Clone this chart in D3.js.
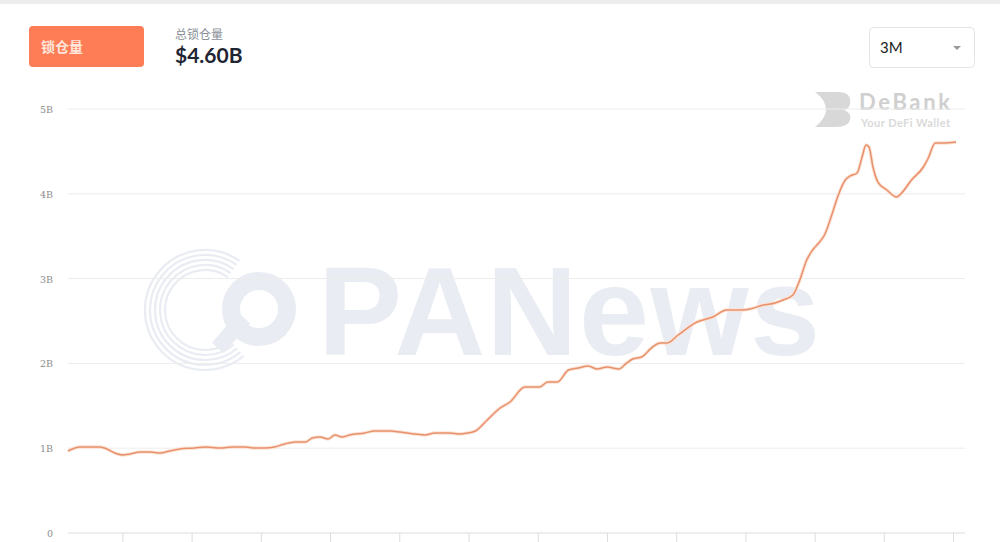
<!DOCTYPE html>
<html><head><meta charset="utf-8">
<script src="https://cdn.jsdelivr.net/npm/d3@7"></script>
<style>
html,body{margin:0;padding:0;background:#fff;overflow:hidden;}
svg{display:block;}
</style></head>
<body>
<svg id="c" width="1000" height="542"></svg>
<script>
// ---- data ----
const days = [0,1.2,3.2,3.7,4.75,5.5,6.3,7.3,8.3,9.3,10.3,11.3,12.8,13.9,15.4,16.6,17.9,18.9,19.9,20.9,21.9,23.0,24.0,24.7,25.5,26.3,27.0,27.7,28.5,30.0,31.0,32.6,33.6,35.1,36.1,37.1,38.6,39.6,40.4,41.2,42.4,43.7,44.7,46.2,47.7,48.5,49.5,50.6,51.6,52.6,53.5,54.5,55.7,56.5,57.1,58.0,59.1,59.9,60.6,61.7,63.6,65.2,66.6,68.0,69.0,70.3,71.5,72.3,73.3,74.0,74.7,75.3,76.0,76.5,77.3,77.9,78.6,79.1,79.8,80.3,80.7,81.0,81.4,81.9,82.8,83.8,84.3,85.3,86.5,87.0,87.7,88.5,89.8];
const tvl = [0.967,1.014,1.014,1.002,0.943,0.920,0.932,0.955,0.955,0.943,0.967,0.991,1.002,1.014,1.002,1.014,1.014,1.002,1.002,1.014,1.05,1.073,1.073,1.12,1.132,1.108,1.156,1.132,1.156,1.179,1.203,1.203,1.191,1.167,1.156,1.179,1.179,1.167,1.179,1.203,1.333,1.474,1.545,1.722,1.722,1.781,1.781,1.922,1.946,1.969,1.934,1.958,1.934,2.005,2.052,2.075,2.193,2.241,2.241,2.335,2.488,2.547,2.630,2.630,2.642,2.689,2.712,2.748,2.807,2.983,3.219,3.337,3.432,3.514,3.774,3.986,4.163,4.210,4.245,4.434,4.575,4.552,4.316,4.139,4.045,3.962,4.009,4.163,4.316,4.422,4.599,4.599,4.611];
const yTicks = [0,1,2,3,4,5];
const yTickLabels = ["0","1B","2B","3B","4B","5B"];
const tabLabel = "锁仓量";
const totalLabel = "总锁仓量";
const totalValue = "$4.60B";
const rangeLabel = "3M";

const svg = d3.select("#c");

// top strip
svg.append("rect").attr("x",0).attr("y",0).attr("width",1000).attr("height",4).attr("fill","#ececec");

// scales
const x = d3.scaleLinear().domain([0,90]).range([68,958]);
const y = d3.scaleLinear().domain([0,5]).range([533,109]);

// watermarks
const wmc = "#e9ecf2";
svg.append("text").attr("x",318).attr("y",355).attr("font-family","Liberation Sans, Arial, sans-serif")
  .attr("font-weight","bold").attr("font-size",126).attr("textLength",502).attr("fill",wmc).text("PANews");
const lg = svg.append("g").attr("fill","none").attr("stroke",wmc);
// thin concentric arcs (left loop)
[0,5,10,15,20].forEach(k=>{
  const r = 60-k;
  const cx = 205, cy = 310;
  const a0 = 35*Math.PI/180, a1 = 140*Math.PI/180;
  lg.append("path").attr("d",`M${cx + r*Math.sin(a0)},${cy - r*Math.cos(a0)} A${r},${r} 0 1 0 ${cx + r*Math.sin(a1)},${cy - r*Math.cos(a1)}`)
    .attr("stroke-width",2.2);
});
// thick right ring and diagonal
lg.append("circle").attr("cx",259).attr("cy",309).attr("r",28).attr("stroke-width",18);
lg.append("path").attr("d","M218,348 L244,318").attr("stroke-width",16);

// DeBank
const db = svg.append("g");
db.append("path").attr("d","M815,92 L838,92 Q852,92 850,104 Q849,109 844,110 Q852,113 850,120 Q848,127 836,127 L815,127 Q826,118 826,110 Q826,100 815,92 Z").attr("fill","#d8d8d8");
db.append("text").attr("x",859).attr("y",110).attr("font-family","Lato, sans-serif").attr("font-weight","bold")
  .attr("font-size",22).attr("textLength",91).attr("fill","#cfcfcf").text("DeBank");
db.append("text").attr("x",861).attr("y",127).attr("font-family","Lato, sans-serif").attr("font-weight","bold")
  .attr("font-size",11).attr("textLength",89).attr("fill","#dadada").text("Your DeFi Wallet");

// grid
svg.append("g").selectAll("line").data(yTicks.filter(d=>d>0)).join("line")
  .attr("x1",68).attr("x2",965).attr("y1",d=>y(d)).attr("y2",d=>y(d))
  .attr("stroke","#ececec").attr("stroke-width",1);

// y axis labels
svg.append("g").selectAll("text").data(yTicks).join("text")
  .attr("x",53).attr("y",d=>y(d)+4).attr("text-anchor","end")
  .attr("font-family","DejaVu Serif, Liberation Mono, monospace").attr("font-size",9.5)
  .attr("fill","#8d8d8d").text((d,i)=>yTickLabels[i]);

// x axis
const xAxis = d3.axisBottom(x).tickValues(d3.range(5.5,90,7)).tickSize(10).tickFormat("");
const gx = svg.append("g").attr("transform",`translate(0,${y(0)})`).call(xAxis);
gx.select(".domain").attr("stroke","#dddddd").attr("d","M68,0H965");
gx.selectAll(".tick line").attr("stroke","#dddddd");

// line
const line = d3.line().x((d,i)=>x(days[i])).y(d=>y(d)).curve(d3.curveMonotoneX);
svg.append("path").datum(tvl).attr("d",line).attr("fill","none")
  .attr("stroke","#fbe2d6").attr("stroke-width",3.5).attr("stroke-linejoin","round");
svg.append("path").datum(tvl).attr("d",line).attr("fill","none")
  .attr("stroke","#e8916b").attr("stroke-width",1.5).attr("stroke-linejoin","round");

// header: tab button
svg.append("rect").attr("x",29).attr("y",26).attr("width",115).attr("height",41).attr("rx",4)
  .attr("fill","#ff7d56");
svg.append("text").attr("x",41).attr("y",52).attr("font-family","Noto Sans CJK SC, sans-serif")
  .attr("font-weight","bold").attr("font-size",14).attr("fill","#ffe6dc").text(tabLabel);

svg.append("text").attr("x",175).attr("y",39).attr("font-family","Noto Sans CJK SC, sans-serif")
  .attr("font-size",12).attr("fill","#8a8f99").text(totalLabel);
svg.append("text").attr("x",175).attr("y",63).attr("font-family","Lato, sans-serif")
  .attr("font-weight","bold").attr("font-size",21).attr("fill","#1f2533").text(totalValue);

// dropdown
svg.append("rect").attr("x",869.5).attr("y",27.5).attr("width",105).attr("height",40).attr("rx",4)
  .attr("fill","#fff").attr("stroke","#e3e3e3");
svg.append("text").attr("x",880).attr("y",53).attr("font-family","Lato, sans-serif")
  .attr("font-size",15).attr("fill","#222").text(rangeLabel);
svg.append("path").attr("d","M953,46 L961,46 L957,50 Z").attr("fill","#999");
</script>
</body></html>
